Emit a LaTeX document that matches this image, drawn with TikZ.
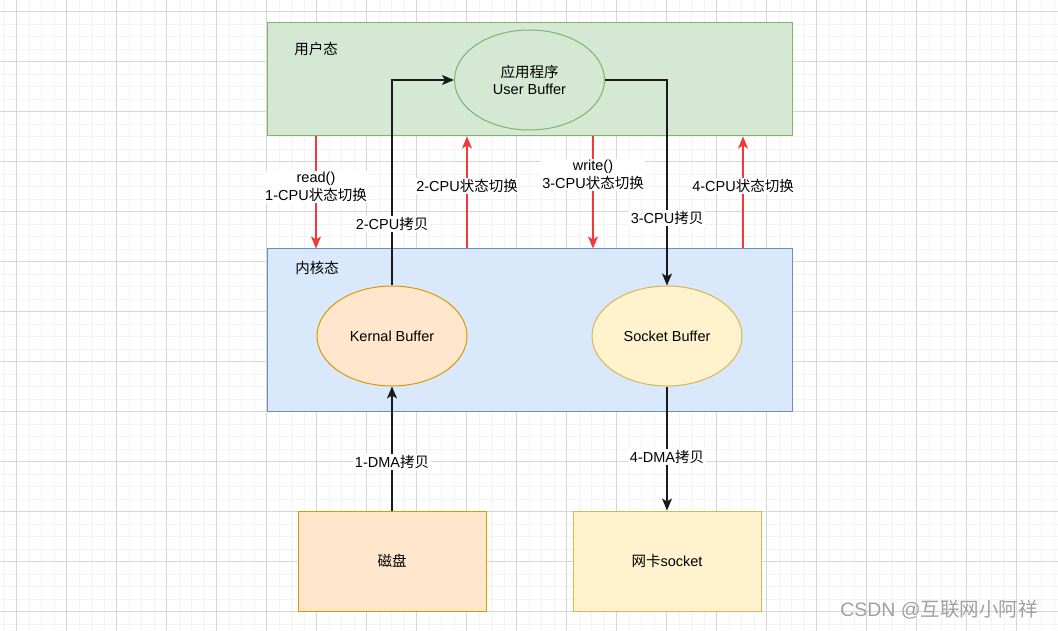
\documentclass[tikz,border=0pt]{standalone}
\usepackage{fontspec}
\setmainfont{Liberation Sans}
\newfontfamily\cjk{Noto Sans CJK SC}
\usetikzlibrary{arrows.meta,shapes.geometric}
\definecolor{gfill}{HTML}{D5E8D4}\definecolor{gline}{HTML}{82B366}
\definecolor{bfill}{HTML}{DAE8FC}\definecolor{bline}{HTML}{6C8EBF}
\definecolor{ofill}{HTML}{FFE6CC}\definecolor{oline}{HTML}{D79B00}
\definecolor{yfill}{HTML}{FFF2CC}\definecolor{yline}{HTML}{D6B656}
\definecolor{redc}{HTML}{F03A3A}
\definecolor{linec}{HTML}{1A1A1A}
\definecolor{gridmaj}{HTML}{D6D6D6}
\definecolor{gridmin}{HTML}{F3F3F3}
\definecolor{wmc}{HTML}{A0A0A0}
\newcommand{\zh}[1]{{\cjk #1}}
\begin{document}
\begin{tikzpicture}[x=1pt,y=-1pt,
  font=\fontsize{14.5}{18}\selectfont,
  region/.style={draw, line width=1pt, minimum width=525pt, inner sep=0pt},
  ell/.style={ellipse, draw, line width=1pt, minimum width=150pt, minimum height=100pt, inner sep=0pt, align=center},
  devbox/.style={rectangle, draw, line width=1pt, minimum width=188pt, minimum height=100pt, inner sep=0pt},
  blk/.style={draw=linec, line width=1.2pt, -{Stealth[length=12pt,width=10pt,inset=3pt]}},
  redarr/.style={draw=redc, line width=1.2pt, -{Stealth[length=12pt,width=10pt,inset=3pt]}},
  lbl/.style={fill=white, inner sep=1.5pt, align=center, text=black},
  txt/.style={inner sep=0pt}
]
\useasboundingbox (0,0) rectangle (1058,631);
\fill[white] (0,0) rectangle (1058,631);
% grid
\foreach \i in {0,...,84} {\draw[gridmin, line width=0.6pt] ({4.2+12.5*\i},0) -- ({4.2+12.5*\i},631);}
\foreach \i in {0,...,51} {\draw[gridmin, line width=0.6pt] (0,{-0.8+12.5*\i}) -- (1058,{-0.8+12.5*\i});}
\foreach \i in {0,...,21} {\draw[gridmaj, line width=0.8pt] ({16.7+50*\i},0) -- ({16.7+50*\i},631);}
\foreach \i in {0,...,12} {\draw[gridmaj, line width=0.8pt] (0,{11.7+50*\i}) -- (1058,{11.7+50*\i});}

% regions
\node[region, fill=gfill, draw=gline, minimum height=113pt] (user) at (529.5,79.5) {};
\node[txt] (userlbl) at (316,49) {\zh{用户态}};
\node[region, fill=bfill, draw=bline, minimum height=162pt] (kernel) at (529.5,330) {};
\node[txt] (kernlbl) at (317,268) {\zh{内核态}};

% buffers
\node[ell, fill=gfill, draw=gline] (ub) at (529.5,80) {\zh{应用程序}\\[-1pt]User Buffer};
\node[ell, fill=ofill, draw=oline] (kb) at (392,336) {Kernal Buffer};
\node[ell, fill=yfill, draw=yline] (sb) at (667,336) {Socket Buffer};

% devices
\node[devbox, fill=ofill, draw=oline] (disk) at (392,561) {\zh{磁盘}};
\node[devbox, fill=yfill, draw=yline] (nic) at (667,561) {\zh{网卡}socket};

% black copy arrows
\draw[blk] (kb.north) |- (ub.west) node[lbl, pos=0.15] {2-CPU\zh{拷贝}};
\draw[blk] (ub.east) -| (sb.north) node[lbl, pos=0.835] {3-CPU\zh{拷贝}};
\draw[blk] (disk.north) -- (kb.south) node[lbl, pos=0.39] {1-DMA\zh{拷贝}};
\draw[blk] (sb.south) -- (nic.north) node[lbl, pos=0.57] {4-DMA\zh{拷贝}};

% red state switch arrows
\coordinate (r1) at (316,0);
\coordinate (r2) at (467,0);
\coordinate (r3) at (593,0);
\coordinate (r4) at (743,0);
\draw[redarr] (user.south -| r1) -- (kernel.north -| r1) node[lbl, pos=0.45] {read()\\1-CPU\zh{状态切换}};
\draw[redarr] (kernel.north -| r2) -- (user.south -| r2) node[lbl, pos=0.56] {2-CPU\zh{状态切换}};
\draw[redarr] (user.south -| r3) -- (kernel.north -| r3) node[lbl, pos=0.345] {write()\\3-CPU\zh{状态切换}};
\draw[redarr] (kernel.north -| r4) -- (user.south -| r4) node[lbl, pos=0.56] {4-CPU\zh{状态切换}};

% watermark
\node[txt, text=wmc, font=\fontsize{19.5}{22}\selectfont] (wm) at (939,610) {CSDN @\zh{互联网小阿祥}};
\end{tikzpicture}
\end{document}
